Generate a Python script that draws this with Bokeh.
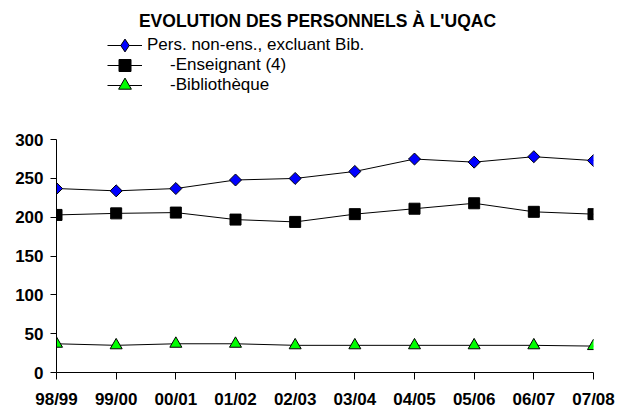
import math
from bokeh.plotting import figure
from bokeh.models import Range1d, FixedTicker, Legend, LegendItem, Label
from bokeh.embed import file_html
from bokeh.resources import INLINE

# ---- data ----
years = ["98/99", "99/00", "00/01", "01/02", "02/03", "03/04", "04/05", "05/06", "06/07", "07/08"]
non_ens = [237, 234, 237, 248, 250, 259, 275, 271, 278, 273]
enseignant = [203, 205, 206, 197, 194, 204, 211, 218, 207, 204]
biblio = [37, 35, 37, 37, 35, 35, 35, 35, 35, 34]
y_ticks = [0, 50, 100, 150, 200, 250, 300]
title_text = "EVOLUTION DES PERSONNELS À L'UQAC"
series_names = ["Pers. non-ens., excluant Bib.", "-Enseignant (4)", "-Bibliothèque"]

# ---- layout (canvas px) ----
W, H = 626, 411
BL, BR, BT, BB = 56, 33, 0, 38
FRAME_BOTTOM = H - BB          # x axis position
FRAME_H = FRAME_BOTTOM - BT    # frame spans to the top so title/legend sit inside it
AXIS_TOP = 139.5               # where the value 300 sits
PLOT_H = FRAME_BOTTOM - AXIS_TOP
Y_MAX = y_ticks[-1]
FONT = "Liberation Sans"

x = list(range(len(years)))

p = figure(width=W, height=H, title=None,
           x_range=Range1d(0, len(years) - 1),
           y_range=Range1d(0, Y_MAX * FRAME_H / PLOT_H),
           output_backend="svg", toolbar_location=None,
           min_border_left=BL, min_border_right=BR, min_border_top=BT, min_border_bottom=BB)
p.outline_line_color = None
p.grid.visible = False
p.background_fill_color = "white"
p.border_fill_color = "white"

for ax in (p.xaxis[0], p.yaxis[0]):
    ax.axis_label = None
    ax.axis_line_color = "black"
    ax.major_tick_line_color = "black"
    ax.minor_tick_line_color = None
    ax.major_tick_in = 0
    ax.major_label_text_font = FONT
    ax.major_label_text_font_style = "bold"
    ax.major_label_text_font_size = "17px"
    ax.major_label_text_color = "black"

p.xaxis.ticker = FixedTicker(ticks=x)
p.xaxis.major_label_overrides = {i: yr for i, yr in enumerate(years)}
p.xaxis.major_tick_out = 7
p.xaxis.major_label_standoff = 10
p.yaxis.ticker = FixedTicker(ticks=y_ticks)
p.yaxis.bounds = (0, Y_MAX)
p.yaxis.major_tick_out = 6
p.yaxis.major_label_standoff = 7

# ---- series ----
l1 = p.line(x, non_ens, line_color="black", line_width=1)
m1 = p.scatter(x, non_ens, marker="square", angle=math.pi / 4, size=8.5,
               fill_color="#0000FF", line_color="black", line_width=1)
# legend swatch only (legend swatches ignore marker angle)
m1_key = p.scatter(x, non_ens, marker="diamond", fill_color="#0000FF",
                   line_color="black", line_width=1, visible=False)
l2 = p.line(x, enseignant, line_color="black", line_width=1)
m2 = p.scatter(x, enseignant, marker="square", size=11,
               fill_color="black", line_color="black", line_width=1)
l3 = p.line(x, biblio, line_color="black", line_width=1)
m3 = p.scatter(x, biblio, marker="triangle", size=12,
               fill_color="#00FF00", line_color="black", line_width=1)

# ---- legend (one per row) ----
GLYPH_X = 107 - BL             # screen px from frame left
row_centers = [46, 66, 86]     # canvas px from top
glyph_heights = [32, 30, 32]
standoffs = [5, 28, 28]
renderers = [[l1, m1_key], [l2, m2], [l3, m3]]
for name, rc, gh, so, rs in zip(series_names, row_centers, glyph_heights, standoffs, renderers):
    lg = Legend(items=[LegendItem(label=name, renderers=rs)],
                location=(GLYPH_X, FRAME_BOTTOM - (rc + gh / 2)),
                glyph_width=35, glyph_height=gh, label_height=gh,
                label_standoff=so, padding=0, margin=0, spacing=0,
                border_line_color=None, background_fill_alpha=0,
                inactive_fill_alpha=0,
                label_text_font=FONT, label_text_font_size="17px",
                label_text_color="black")
    p.add_layout(lg, "center")

# ---- title ----
TITLE_CX, TITLE_CY = 317, 21  # canvas px
p.add_layout(Label(x=TITLE_CX - BL, y=FRAME_BOTTOM - TITLE_CY, x_units="screen", y_units="screen",
                   text=title_text, text_align="center", text_baseline="middle",
                   text_font=FONT, text_font_style="bold", text_font_size="17.5px",
                   text_color="black"))

open("out.html", "w").write(file_html(p, INLINE))
